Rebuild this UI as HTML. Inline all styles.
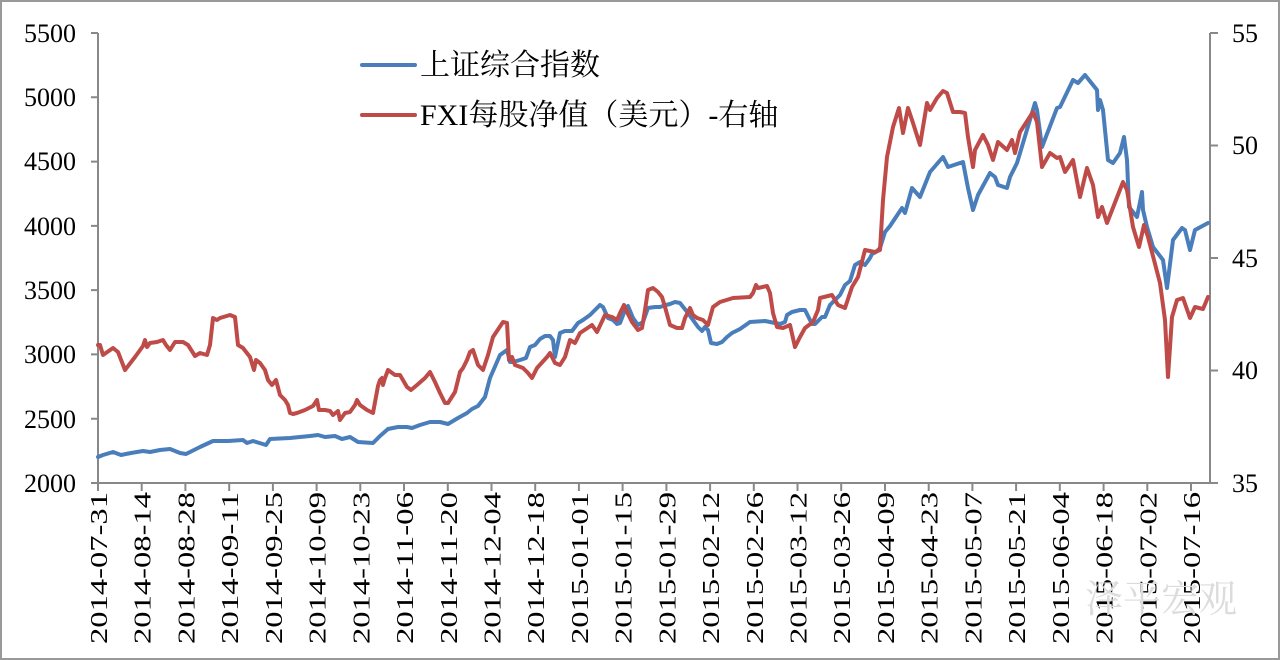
<!DOCTYPE html>
<html><head><meta charset="utf-8"><style>
html,body{margin:0;padding:0;background:#fff}
svg{display:block}
text{font-family:"Liberation Serif","Noto Serif CJK SC",serif;fill:#000}
</style></head><body>
<svg width="1280" height="660" viewBox="0 0 1280 660" xmlns="http://www.w3.org/2000/svg">
<rect x="1" y="1" width="1278" height="658" fill="#fff" stroke="#999" stroke-width="2"/>
<g stroke="#888" stroke-width="2" fill="none">
<line x1="98" y1="33" x2="98" y2="483"/>
<line x1="1210" y1="33" x2="1210" y2="483"/>
<line x1="91" y1="483" x2="1218" y2="483"/>
<path d="M91 33H98M91 97.3H98M91 161.6H98M91 225.9H98M91 290.1H98M91 354.4H98M91 418.7H98M1210 33H1218M1210 145.5H1218M1210 258H1218M1210 370.5H1218"/>
</g>
<g stroke="#888" stroke-width="2">
<line x1="98" y1="483" x2="98" y2="491"/><line x1="141.7" y1="483" x2="141.7" y2="491"/><line x1="185.4" y1="483" x2="185.4" y2="491"/><line x1="229.2" y1="483" x2="229.2" y2="491"/><line x1="272.9" y1="483" x2="272.9" y2="491"/><line x1="316.6" y1="483" x2="316.6" y2="491"/><line x1="360.3" y1="483" x2="360.3" y2="491"/><line x1="404" y1="483" x2="404" y2="491"/><line x1="447.8" y1="483" x2="447.8" y2="491"/><line x1="491.5" y1="483" x2="491.5" y2="491"/><line x1="535.2" y1="483" x2="535.2" y2="491"/><line x1="578.9" y1="483" x2="578.9" y2="491"/><line x1="622.6" y1="483" x2="622.6" y2="491"/><line x1="666.4" y1="483" x2="666.4" y2="491"/><line x1="710.1" y1="483" x2="710.1" y2="491"/><line x1="753.8" y1="483" x2="753.8" y2="491"/><line x1="797.5" y1="483" x2="797.5" y2="491"/><line x1="841.2" y1="483" x2="841.2" y2="491"/><line x1="885" y1="483" x2="885" y2="491"/><line x1="928.7" y1="483" x2="928.7" y2="491"/><line x1="972.4" y1="483" x2="972.4" y2="491"/><line x1="1016.1" y1="483" x2="1016.1" y2="491"/><line x1="1059.8" y1="483" x2="1059.8" y2="491"/><line x1="1103.6" y1="483" x2="1103.6" y2="491"/><line x1="1147.3" y1="483" x2="1147.3" y2="491"/><line x1="1191" y1="483" x2="1191" y2="491"/>
</g>
<g font-size="26" text-anchor="end">
<text x="76" y="42">5500</text><text x="76" y="106">5000</text><text x="76" y="170">4500</text><text x="76" y="235">4000</text><text x="76" y="299">3500</text><text x="76" y="363">3000</text><text x="76" y="428">2500</text><text x="76" y="492">2000</text>
</g>
<g font-size="26">
<text x="1232" y="42">55</text><text x="1232" y="154">50</text><text x="1232" y="267">45</text><text x="1232" y="379">40</text><text x="1232" y="492">35</text>
</g>
<g font-size="24" text-anchor="end">
<text transform="translate(107,492) rotate(-90)" textLength="152" lengthAdjust="spacingAndGlyphs">2014-07-31</text>
<text transform="translate(150.7,492) rotate(-90)" textLength="152" lengthAdjust="spacingAndGlyphs">2014-08-14</text>
<text transform="translate(194.4,492) rotate(-90)" textLength="152" lengthAdjust="spacingAndGlyphs">2014-08-28</text>
<text transform="translate(238.2,492) rotate(-90)" textLength="152" lengthAdjust="spacingAndGlyphs">2014-09-11</text>
<text transform="translate(281.9,492) rotate(-90)" textLength="152" lengthAdjust="spacingAndGlyphs">2014-09-25</text>
<text transform="translate(325.6,492) rotate(-90)" textLength="152" lengthAdjust="spacingAndGlyphs">2014-10-09</text>
<text transform="translate(369.3,492) rotate(-90)" textLength="152" lengthAdjust="spacingAndGlyphs">2014-10-23</text>
<text transform="translate(413,492) rotate(-90)" textLength="152" lengthAdjust="spacingAndGlyphs">2014-11-06</text>
<text transform="translate(456.8,492) rotate(-90)" textLength="152" lengthAdjust="spacingAndGlyphs">2014-11-20</text>
<text transform="translate(500.5,492) rotate(-90)" textLength="152" lengthAdjust="spacingAndGlyphs">2014-12-04</text>
<text transform="translate(544.2,492) rotate(-90)" textLength="152" lengthAdjust="spacingAndGlyphs">2014-12-18</text>
<text transform="translate(587.9,492) rotate(-90)" textLength="152" lengthAdjust="spacingAndGlyphs">2015-01-01</text>
<text transform="translate(631.6,492) rotate(-90)" textLength="152" lengthAdjust="spacingAndGlyphs">2015-01-15</text>
<text transform="translate(675.4,492) rotate(-90)" textLength="152" lengthAdjust="spacingAndGlyphs">2015-01-29</text>
<text transform="translate(719.1,492) rotate(-90)" textLength="152" lengthAdjust="spacingAndGlyphs">2015-02-12</text>
<text transform="translate(762.8,492) rotate(-90)" textLength="152" lengthAdjust="spacingAndGlyphs">2015-02-26</text>
<text transform="translate(806.5,492) rotate(-90)" textLength="152" lengthAdjust="spacingAndGlyphs">2015-03-12</text>
<text transform="translate(850.2,492) rotate(-90)" textLength="152" lengthAdjust="spacingAndGlyphs">2015-03-26</text>
<text transform="translate(894,492) rotate(-90)" textLength="152" lengthAdjust="spacingAndGlyphs">2015-04-09</text>
<text transform="translate(937.7,492) rotate(-90)" textLength="152" lengthAdjust="spacingAndGlyphs">2015-04-23</text>
<text transform="translate(981.4,492) rotate(-90)" textLength="152" lengthAdjust="spacingAndGlyphs">2015-05-07</text>
<text transform="translate(1025.1,492) rotate(-90)" textLength="152" lengthAdjust="spacingAndGlyphs">2015-05-21</text>
<text transform="translate(1068.8,492) rotate(-90)" textLength="152" lengthAdjust="spacingAndGlyphs">2015-06-04</text>
<text transform="translate(1112.6,492) rotate(-90)" textLength="152" lengthAdjust="spacingAndGlyphs">2015-06-18</text>
<text transform="translate(1156.3,492) rotate(-90)" textLength="152" lengthAdjust="spacingAndGlyphs">2015-07-02</text>
<text transform="translate(1200,492) rotate(-90)" textLength="152" lengthAdjust="spacingAndGlyphs">2015-07-16</text>
</g>
<g fill="none" stroke-width="4" stroke-linejoin="round" stroke-linecap="round">
<polyline stroke="#4a7ebb" points="98,457 103,455 113,452 121,455 131,453 143,451 150,452 160,450 170,449 180,453 186,454 200,447 213,441 228,441 243,440 247,443 253,441 266,445 270,439 290,438 310,436 318,435 325,437 335,436 342,439 350,437 358,442 373,443 380,436 388,429 398,427 407,427 412,428 420,425 430,422 440,422 448,424 458,418 467,413 472,409 478,406 485,397 490,378 500,355 507,350 510,362 513,362 520,360 526,358 530,347 535,345 540,339 545,336 550,336 553,340 555,357 560,333 565,331 572,331 575,327 578,323 583,320 590,315 597,308 600,305 603,307 608,318 613,320 617,324 620,323 625,310 628,306 633,318 638,325 643,322 648,308 655,307 660,307 666,305 670,304 675,302 680,303 688,313 693,320 698,327 702,331 705,327 708,330 711,343 717,344 722,342 727,337 732,333 740,329 750,322 765,321 775,323 780,324 785,322 787,315 792,312 800,310 805,310 808,316 812,324 815,324 818,321 822,317 825,317 830,305 835,300 840,295 845,285 850,281 855,265 860,262 865,265 870,258 872,254 876,252 880,248 885,232 890,226 902,208 905,213 912,188 920,197 930,172 943,157 948,167 963,162 968,188 973,210 978,195 990,173 995,177 998,185 1007,188 1010,177 1017,163 1035,103 1037,110 1042,147 1057,108 1060,107 1073,80 1078,83 1085,75 1097,90 1098,110 1100,100 1103,110 1108,160 1113,163 1120,153 1124,137 1127,160 1129,207 1137,217 1142,192 1143,210 1147,227 1153,247 1163,260 1167,288 1173,240 1182,228 1185,230 1190,250 1195,230 1208,223"/>
<polyline stroke="#be4b48" points="98,345 100,345 103,355 113,348 118,352 125,370 135,357 143,346 145,340 147,347 150,343 157,342 163,340 166,345 170,350 175,342 183,342 188,345 195,356 200,353 207,355 210,345 213,318 217,320 220,318 230,315 235,317 238,345 243,348 250,357 254,370 256,360 260,363 265,370 268,380 272,385 276,380 280,395 285,400 288,405 290,413 293,414 297,413 305,410 313,406 317,400 319,410 325,410 330,411 333,415 338,411 340,420 345,413 350,412 355,405 357,400 360,405 367,410 373,413 378,386 380,380 382,378 383,385 385,378 388,370 395,375 400,375 407,387 411,390 417,385 425,378 430,372 435,382 440,393 445,403 448,403 455,392 460,372 463,368 467,360 470,352 473,350 478,365 483,370 488,355 493,337 503,322 507,323 509,360 512,357 515,365 523,368 528,373 532,378 537,368 547,357 550,353 555,363 560,365 565,357 570,340 575,343 580,333 592,325 597,332 605,315 612,317 617,320 620,313 624,305 627,312 632,322 638,330 642,328 645,310 648,290 653,288 658,292 662,297 665,307 670,325 677,328 682,328 685,318 690,308 693,315 697,318 703,320 708,325 713,307 720,302 733,298 750,297 753,293 756,285 758,288 767,286 770,293 773,313 777,327 783,328 790,325 795,347 800,337 805,328 813,322 818,310 820,298 832,295 838,305 845,308 852,287 858,277 865,250 875,252 880,250 883,200 887,157 893,127 899,108 903,133 908,108 913,123 920,145 927,103 930,110 937,98 943,91 947,93 953,112 960,112 965,113 968,137 973,167 975,150 983,135 988,145 993,160 998,142 1007,150 1012,140 1015,153 1020,132 1033,112 1037,122 1042,167 1050,153 1057,158 1060,157 1065,172 1073,160 1080,197 1087,168 1093,185 1098,217 1102,207 1107,223 1123,182 1127,190 1133,227 1139,247 1144,225 1148,237 1160,283 1165,320 1168,377 1172,317 1177,300 1183,298 1190,318 1195,307 1203,309 1208,297"/>
<line x1="362" y1="65" x2="415" y2="65" stroke="#4a7ebb"/>
<line x1="362" y1="115" x2="415" y2="115" stroke="#be4b48"/>
</g>
<g font-size="30">
<text x="420" y="75">上证综合指数</text>
<text x="420" y="125">FXI每股净值（美元）-右轴</text>
</g>
<text x="1085" y="612" font-size="38" style="fill:#dcdcdc">泽平宏观</text>
</svg>
</body></html>
